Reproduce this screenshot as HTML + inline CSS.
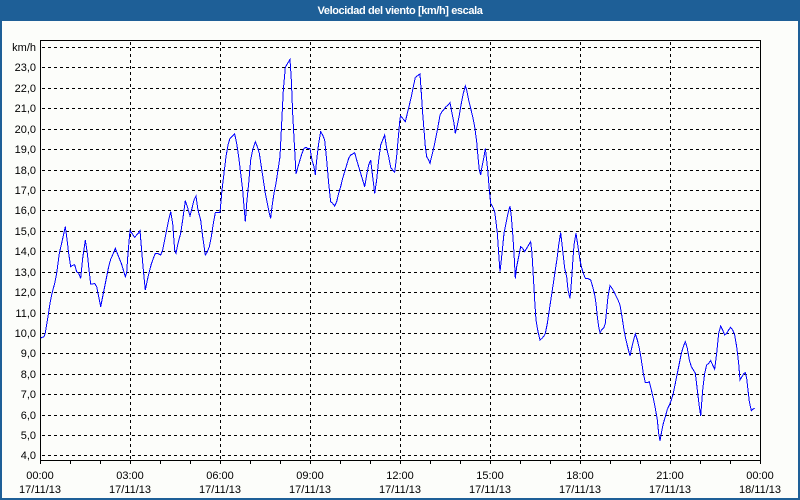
<!DOCTYPE html>
<html><head><meta charset="utf-8"><style>
html,body{margin:0;padding:0;background:#fcfdfa;}
svg{display:block;}
text{font-family:"Liberation Sans",Arial,sans-serif;font-size:11px;fill:#000;}
</style></head><body>
<svg width="800" height="500" viewBox="0 0 800 500" xmlns="http://www.w3.org/2000/svg">
<rect x="0" y="0" width="800" height="500" fill="#1e5f97"/>
<rect x="2" y="21" width="796" height="477" fill="#fcfdfa"/>
<text x="400" y="14" text-anchor="middle" style="font-weight:bold;fill:#fff;letter-spacing:-0.4px">Velocidad del viento [km/h] escala</text>
<g stroke="#000" stroke-width="1" stroke-dasharray="3 3" shape-rendering="crispEdges" fill="none">
<path d="M42 47.5H760M42 67.5H760M42 88.5H760M42 108.5H760M42 129.5H760M42 149.5H760M42 170.5H760M42 190.5H760M42 210.5H760M42 231.5H760M42 251.5H760M42 272.5H760M42 292.5H760M42 313.5H760M42 333.5H760M42 353.5H760M42 374.5H760M42 394.5H760M42 415.5H760M42 435.5H760M42 455.5H760"/>
<path d="M130.5 42V460M220.5 42V460M310.5 42V460M400.5 42V460M490.5 42V460M580.5 42V460M670.5 42V460"/>
</g>
<g stroke="#000" stroke-width="1" shape-rendering="crispEdges" fill="none">
<rect x="40.5" y="40.5" width="720" height="420"/>
<path d="M70.5 460V464M100.5 460V464M130.5 460V464M160.5 460V464M190.5 460V464M220.5 460V464M250.5 460V464M280.5 460V464M310.5 460V464M340.5 460V464M370.5 460V464M400.5 460V464M430.5 460V464M460.5 460V464M490.5 460V464M520.5 460V464M550.5 460V464M580.5 460V464M610.5 460V464M640.5 460V464M670.5 460V464M700.5 460V464M730.5 460V464M40.5 460V464M760.5 460V464"/>
</g>
<g text-anchor="end">
<text x="36" y="51">km/h</text>
<text x="36" y="71">23,0</text>
<text x="36" y="92">22,0</text>
<text x="36" y="112">21,0</text>
<text x="36" y="133">20,0</text>
<text x="36" y="153">19,0</text>
<text x="36" y="174">18,0</text>
<text x="36" y="194">17,0</text>
<text x="36" y="214">16,0</text>
<text x="36" y="235">15,0</text>
<text x="36" y="255">14,0</text>
<text x="36" y="276">13,0</text>
<text x="36" y="296">12,0</text>
<text x="36" y="317">11,0</text>
<text x="36" y="337">10,0</text>
<text x="36" y="357">9,0</text>
<text x="36" y="378">8,0</text>
<text x="36" y="398">7,0</text>
<text x="36" y="419">6,0</text>
<text x="36" y="439">5,0</text>
<text x="36" y="459">4,0</text>
</g>
<g text-anchor="middle">
<text x="40" y="479">00:00</text><text x="40" y="493">17/11/13</text>
<text x="130" y="479">03:00</text><text x="130" y="493">17/11/13</text>
<text x="220" y="479">06:00</text><text x="220" y="493">17/11/13</text>
<text x="310" y="479">09:00</text><text x="310" y="493">17/11/13</text>
<text x="400" y="479">12:00</text><text x="400" y="493">17/11/13</text>
<text x="490" y="479">15:00</text><text x="490" y="493">17/11/13</text>
<text x="580" y="479">18:00</text><text x="580" y="493">17/11/13</text>
<text x="670" y="479">21:00</text><text x="670" y="493">17/11/13</text>
<text x="760" y="479">00:00</text><text x="760" y="493">18/11/13</text>
</g>
<polyline fill="none" stroke="#0000ff" stroke-width="1" shape-rendering="crispEdges" points="
40.67,338 44,336.67 45.33,332.67 48,316.67 50,303.33 52,293.33 54.67,283.33 56.67,273.33 59.33,253.33 62,241.67 64,232.67 65.33,226.67 66.67,236.67 68.67,253.33 70.67,266.67 72.67,265.33 74.67,264.67 76.67,271.67 78.67,273.33 80.67,278.33 82.67,258.33 85.33,240 87.33,253.33 88.67,266.67 90.67,284 92.67,284 94.67,283.33 96.67,286.67 98.67,296.67 100.67,306.67 102.67,296.67 104.67,286.67 106.67,276.67 108.67,266.67 110.67,259.33 113.33,253.33 115.33,248.33 117.33,253.33 119.33,258.33 121.33,263.33 123.33,270 125.33,276.67 126.67,272.67 128,253.33 130,230.67 132,233.33 134.67,237.33 136.67,235 138.67,232.67 140,230.67 141.33,246.67 143.33,270 145.33,290 147.33,280 149.33,271.67 151.33,264 153.33,258.33 155.33,253.33 157.33,253.33 160.67,255 162.67,250 164.67,240 166.67,230 168.67,220 170.67,211.67 172.67,223.33 174.67,250 176,253.33 178,243.33 180.67,233.33 182.67,220 185.33,200.67 187.33,206.67 190,216 192,208.33 194,200 196,196 198,210 200.67,220 202.67,236.67 205.33,255 207.33,251.67 209.33,246.67 211.33,236.67 213.33,223.33 215.33,212.67 217.33,212.67 220,212.67
222,190 224,173.33 226,156.67 228,145 230,138.33 232.67,136 234.67,134 236.67,143.33 238.67,156.67 240.67,173.33 242.67,190 244,206.67 245.33,221.67 246.67,203.33 248.67,183.33 250.67,160 252.67,150 255.33,141.67 257.33,146.67 259.33,153.33 261.33,166.67 263.33,180 265.33,193.33 267.33,203.33 269.33,213.33 270.67,218.33 272,206.67 274,193.33 276,183.33 278,170 280,156.67 281.33,130 283.33,90 285.33,67.33 288,62.67 290,59.33 291.33,80 292.67,113.33 294.67,150 296,174 298,166.67 300,160 302,153.33 304,148.33 306,147.33 308,148.67 310,148.67 312,160 314,166.67 315.33,175 316.67,160 318.67,143.33 320.67,131.67 322.67,135 324.67,140 326.67,160 328.67,183.33 330.67,201.67 332.67,203.33 334.67,206 336.67,201.67 338.67,193.33 340.67,186.67 342.67,178.33 344.67,171.67 346.67,165 348.67,158.33 350.67,155 352.67,154 354.67,152.67 356.67,160 358.67,166.67 360.67,173.33 362.67,180 364.67,186.67 366.67,175 368.67,165 370.67,160 372.67,176.67 374.67,193.33 376.67,180 378.67,160 380.67,145 382.67,140 384.67,135 386.67,148.33 388.67,156.67 390.67,167.33 392.67,170 394.67,172 396.67,156 398.67,133.33 400,118.33
400.67,116 402.67,118.33 405.33,121.67 407.33,113.33 409.33,105 411.33,96.67 413.33,86.67 415.33,77.33 418,75.33 420,74 421.33,93.33 422.67,113.33 424,130 425.33,146.67 426.67,156.67 428.67,160 430,163.33 432,155 434,146.67 436,136.67 438,126.67 440,115 442,111.67 444,109.33 446,106.67 448,105 450,102.67 452,113.33 454,123.33 455.33,133.33 457.33,125 459.33,115 461.33,103.33 463.33,93.33 465.33,86 466.67,90 468.67,100 470.67,108.33 472.67,116.67 474.67,126.67 476.67,141.67 478,156.67 479.33,170 480.67,175 482,166.67 484,156.67 485.33,148.33 486.67,160 488,173.33 489.33,190 490.67,203.33 492.67,206.67 494.67,211.67 496,221.67 497.33,233.33 498.67,253.33 500,271.67 501.33,260 502.67,246.67 504,233.33 506,223.33 508,213.33 510,206 511.33,216.67 512.67,233.33 514,253.33 515.33,278.33 516.67,266.67 518.67,256.67 520.67,246.67 522.67,248.33 524.67,251.67 526.67,248.33 528.67,245 530.67,241.67 532,253.33 533.33,276.67 534.67,300 536,320 538,331.67 540,340 542,338.33 544,336 545.33,333.33 547.33,323.33 549.33,310 551.33,296.67 553.33,283.33 555.33,270 557.33,256.67 558.67,245 560.67,232.67 562.67,250 564.67,268.33 566.67,276.67 568,290 570,298.33 571.33,283.33 572.67,263.33 574,245 576,233.33 578,246.67 580,260
581.33,266.67 583.33,273.33 585.33,278.33 588,278.67 590.67,280 592.67,286.67 594.67,295 596,303.33 597.33,316.67 598.67,326.67 600,332.67 602,329.33 604,327.33 605.33,323.33 606.67,310 608,296.67 610,285.67 612,288.33 614,291.67 616,296 618,300 620,305 622,316.67 624,330 626,340 628,348.33 630,356 632,346.67 634,338.33 635.33,334 637.33,340 639.33,348.33 641.33,360 643.33,373.33 645.33,382.67 647.33,382.67 649.33,381.67 651.33,390 653.33,398.33 655.33,408.33 657.33,420 658.67,433.33 660,440.67 661.33,433.33 663.33,423.33 665.33,416.67 667.33,409.33 669.33,405 671.33,400 673.33,393.33 675.33,383.33 677.33,373.33 679.33,363.33 681.33,353.33 683.33,346.67 685.33,341.67 687.33,348.33 689.33,360 691.33,366.67 693.33,370 695.33,373.33 697.33,390 699.33,406.67 700.67,416 702.67,390 704.67,373.33 706.67,365 708.67,363.33 710.67,360.67 712.67,365 714.67,369.33 716.67,353.33 718.67,333.33 720.67,326 722.67,330 724.67,335 726.67,333.33 728.67,330 730.67,327.33 732.67,330 734.67,335 736.67,346.67 738.67,363.33 740,380 742,376.67 744,373.33 745.33,372.67 746.67,378.33 748,390 749.33,401.67 751.33,410.67 752.67,409.33 754.67,408.33"/>
</svg>
</body></html>
